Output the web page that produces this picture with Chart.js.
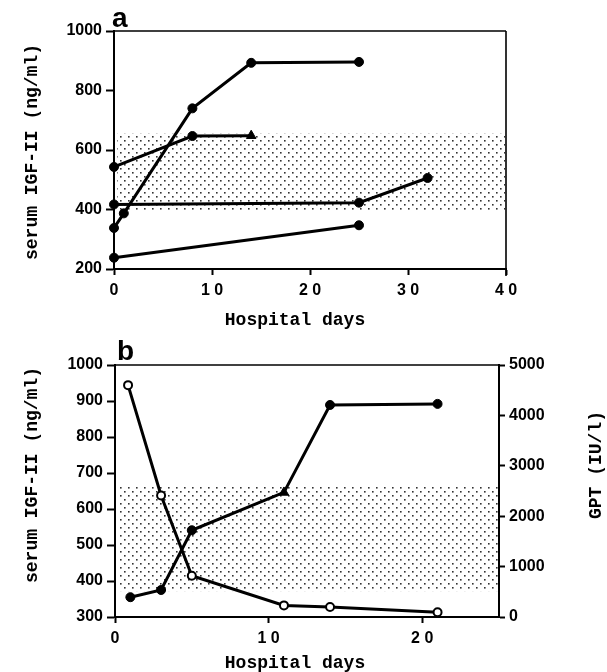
<!DOCTYPE html>
<html>
<head>
<meta charset="utf-8">
<script src="https://cdn.jsdelivr.net/npm/chart.js@4/dist/chart.umd.min.js"></script>
<style>
  html, body { margin: 0; padding: 0; background: #fff; }
  #wrap { position: relative; width: 607px; height: 672px; }
  .panel { position: absolute; left: 0; width: 607px; }
  #pa { top: 0; height: 335px; }
  #pb { top: 335px; height: 337px; }
</style>
</head>
<body>
<div id="wrap">
  <div class="panel" id="pa"><canvas id="chartA"></canvas></div>
  <div class="panel" id="pb"><canvas id="chartB"></canvas></div>
</div>
<script>
// ---------- Panel a data ----------
const daysA1 = [0, 1, 8, 14, 25];
const igfA1  = [338, 387, 740, 893, 896];
const daysA2 = [0, 8, 14];
const igfA2  = [543, 647, 648];
const daysA3 = [0, 25, 32];
const igfA3  = [417, 423, 506];
const daysA4 = [0, 25];
const igfA4  = [238, 347];
const bandA  = [395, 655];           // normal range (ng/ml)
const xTicksA = [0, 10, 20, 30, 40];
const xTickLabelsA = ['0', '1 0', '2 0', '3 0', '4 0'];
const yTicksA = [200, 400, 600, 800, 1000];

// ---------- Panel b data ----------
const daysBIgf = [1, 3, 5, 11, 14, 21];
const igfB     = [355, 375, 541, 646, 889, 892];
const daysBGpt = [0.85, 3, 5, 11, 14, 21];
const gptB     = [4600, 2410, 820, 230, 198, 95];
const bandB    = [372, 666];
const xTicksB = [0, 10, 20];
const xTickLabelsB = ['0', '1 0', '2 0'];
const yTicksB = [300, 400, 500, 600, 700, 800, 900, 1000];
const y1TicksB = [0, 1000, 2000, 3000, 4000, 5000];

const yTitle = 'serum IGF-II (ng/ml)';
const xTitle = 'Hospital days';
const y1Title = 'GPT (IU/l)';

const toPts = (xs, ys) => xs.map((x, i) => ({ x: x, y: ys[i] }));

// dotted pattern
function makePattern(ctx) {
  const c = document.createElement('canvas');
  c.width = 8; c.height = 8;
  const g = c.getContext('2d');
  g.fillStyle = '#333';
  g.fillRect(0, 0, 1.6, 1.6);
  g.fillRect(4, 4, 1.6, 1.6);
  return ctx.createPattern(c, 'repeat');
}

const bandPlugin = {
  id: 'band',
  beforeDatasetsDraw(chart, args, opts) {
    const { ctx, chartArea } = chart;
    const ys = chart.scales.y;
    const top = ys.getPixelForValue(opts.range[1]);
    const bot = ys.getPixelForValue(opts.range[0]);
    ctx.save();
    ctx.fillStyle = makePattern(ctx);
    ctx.fillRect(chartArea.left + 3, top, chartArea.right - chartArea.left - 4, bot - top);
    // frame: top border and (optionally) right border
    ctx.strokeStyle = '#000';
    ctx.lineWidth = 1.6;
    ctx.beginPath();
    ctx.moveTo(chartArea.left, chartArea.top);
    ctx.lineTo(chartArea.right, chartArea.top);
    if (opts.rightFrame) {
      ctx.moveTo(chartArea.right, chartArea.top);
      ctx.lineTo(chartArea.right, chartArea.bottom + 7);
    }
    ctx.stroke();
    ctx.restore();
  }
};

const textPlugin = {
  id: 'texts',
  afterDraw(chart, args, opts) {
    const { ctx } = chart;
    opts.items.forEach(it => {
      ctx.save();
      ctx.fillStyle = '#000';
      ctx.font = it.font;
      ctx.textAlign = it.align || 'center';
      ctx.textBaseline = it.baseline || 'middle';
      ctx.translate(it.x, it.y);
      if (it.rot) ctx.rotate(it.rot);
      ctx.fillText(it.text, 0, 0);
      ctx.restore();
    });
  }
};

const tickFont = { family: 'Liberation Sans, Arial, sans-serif', size: 16, weight: 'bold' };
const titleFont = 'bold 18px "Liberation Mono", "Courier New", monospace';
const letterFont = 'bold 28px "Liberation Sans", Arial, sans-serif';

function axisGrid(len) {
  return { display: true, drawOnChartArea: false, drawTicks: true, tickLength: len, tickWidth: 2, tickColor: '#000' };
}
const axisBorder = { display: true, color: '#000', width: 2 };

function lineDs(pts, style) {
  return Object.assign({
    data: pts, showLine: true, borderColor: '#000', borderWidth: 3,
    pointRadius: 4.5, pointHoverRadius: 4.5, pointBackgroundColor: '#000', pointBorderColor: '#000',
    pointBorderWidth: 1, clip: false, tension: 0
  }, style || {});
}

// ---------- Chart a ----------
new Chart(document.getElementById('chartA'), {
  type: 'scatter',
  data: {
    datasets: [
      lineDs(toPts(daysA1, igfA1)),
      lineDs(toPts(daysA2, igfA2), { pointStyle: ['circle', 'circle', 'triangle'], pointRadius: [4.5, 4.5, 5.5] }),
      lineDs(toPts(daysA3, igfA3)),
      lineDs(toPts(daysA4, igfA4))
    ]
  },
  options: {
    responsive: true, maintainAspectRatio: false, animation: false,
    events: [],
    layout: { padding: { top: 31, right: 101, bottom: 0, left: 0 } },
    plugins: {
      legend: { display: false }, tooltip: { enabled: false },
      band: { range: bandA, rightFrame: true },
      texts: { items: [
        { text: 'a', x: 112, y: 27, font: letterFont, align: 'left', baseline: 'alphabetic' },
        { text: yTitle, x: 32, y: 152, rot: -Math.PI / 2, font: titleFont },
        { text: xTitle, x: 295, y: 320, font: titleFont }
      ] }
    },
    scales: {
      x: {
        type: 'linear', min: 0, max: 40,
        afterFit: s => { s.height = 66; },
        afterBuildTicks: s => { s.ticks = xTicksA.map(v => ({ value: v })); },
        grid: axisGrid(6), border: axisBorder,
        ticks: { color: '#000', font: tickFont, padding: 6, maxRotation: 0,
                 callback: v => xTickLabelsA[xTicksA.indexOf(v)] }
      },
      y: {
        type: 'linear', min: 200, max: 1000,
        afterFit: s => { s.width = 114; },
        afterBuildTicks: s => { s.ticks = yTicksA.map(v => ({ value: v })); },
        grid: axisGrid(8), border: axisBorder,
        ticks: { color: '#000', font: tickFont, padding: 4, callback: v => String(v) }
      }
    }
  },
  plugins: [bandPlugin, textPlugin]
});

// ---------- Chart b ----------
new Chart(document.getElementById('chartB'), {
  type: 'scatter',
  data: {
    datasets: [
      lineDs(toPts(daysBIgf, igfB), {
        yAxisID: 'y',
        pointStyle: ['circle', 'circle', 'circle', 'triangle', 'circle', 'circle'],
        pointRadius: [4.5, 4.5, 4.5, 5.5, 4.5, 4.5]
      }),
      lineDs(toPts(daysBGpt, gptB), {
        yAxisID: 'y1', pointRadius: 4, pointBackgroundColor: '#fff', pointBorderWidth: 2
      })
    ]
  },
  options: {
    responsive: true, maintainAspectRatio: false, animation: false,
    events: [],
    layout: { padding: { top: 30, right: 0, bottom: 0, left: 0 } },
    plugins: {
      legend: { display: false }, tooltip: { enabled: false },
      band: { range: bandB, rightFrame: false },
      texts: { items: [
        { text: 'b', x: 117, y: 25, font: letterFont, align: 'left', baseline: 'alphabetic' },
        { text: yTitle, x: 32, y: 140, rot: -Math.PI / 2, font: titleFont },
        { text: y1Title, x: 596, y: 130, rot: -Math.PI / 2, font: titleFont },
        { text: xTitle, x: 295, y: 328, font: titleFont }
      ] }
    },
    scales: {
      x: {
        type: 'linear', min: 0, max: 25,
        afterFit: s => { s.height = 55; },
        afterBuildTicks: s => { s.ticks = xTicksB.map(v => ({ value: v })); },
        grid: axisGrid(6), border: axisBorder,
        ticks: { color: '#000', font: tickFont, padding: 6, maxRotation: 0,
                 callback: v => xTickLabelsB[xTicksB.indexOf(v)] }
      },
      y: {
        type: 'linear', position: 'left', min: 300, max: 1000,
        afterFit: s => { s.width = 115; },
        afterBuildTicks: s => { s.ticks = yTicksB.map(v => ({ value: v })); },
        grid: axisGrid(8), border: axisBorder,
        ticks: { color: '#000', font: tickFont, padding: 4, callback: v => String(v) }
      },
      y1: {
        type: 'linear', position: 'right', min: 0, max: 5000,
        afterFit: s => { s.width = 108; },
        afterBuildTicks: s => { s.ticks = y1TicksB.map(v => ({ value: v })); },
        grid: axisGrid(6), border: axisBorder,
        ticks: { color: '#000', font: tickFont, padding: 4, callback: v => String(v) }
      }
    }
  },
  plugins: [bandPlugin, textPlugin]
});
</script>
</body>
</html>
